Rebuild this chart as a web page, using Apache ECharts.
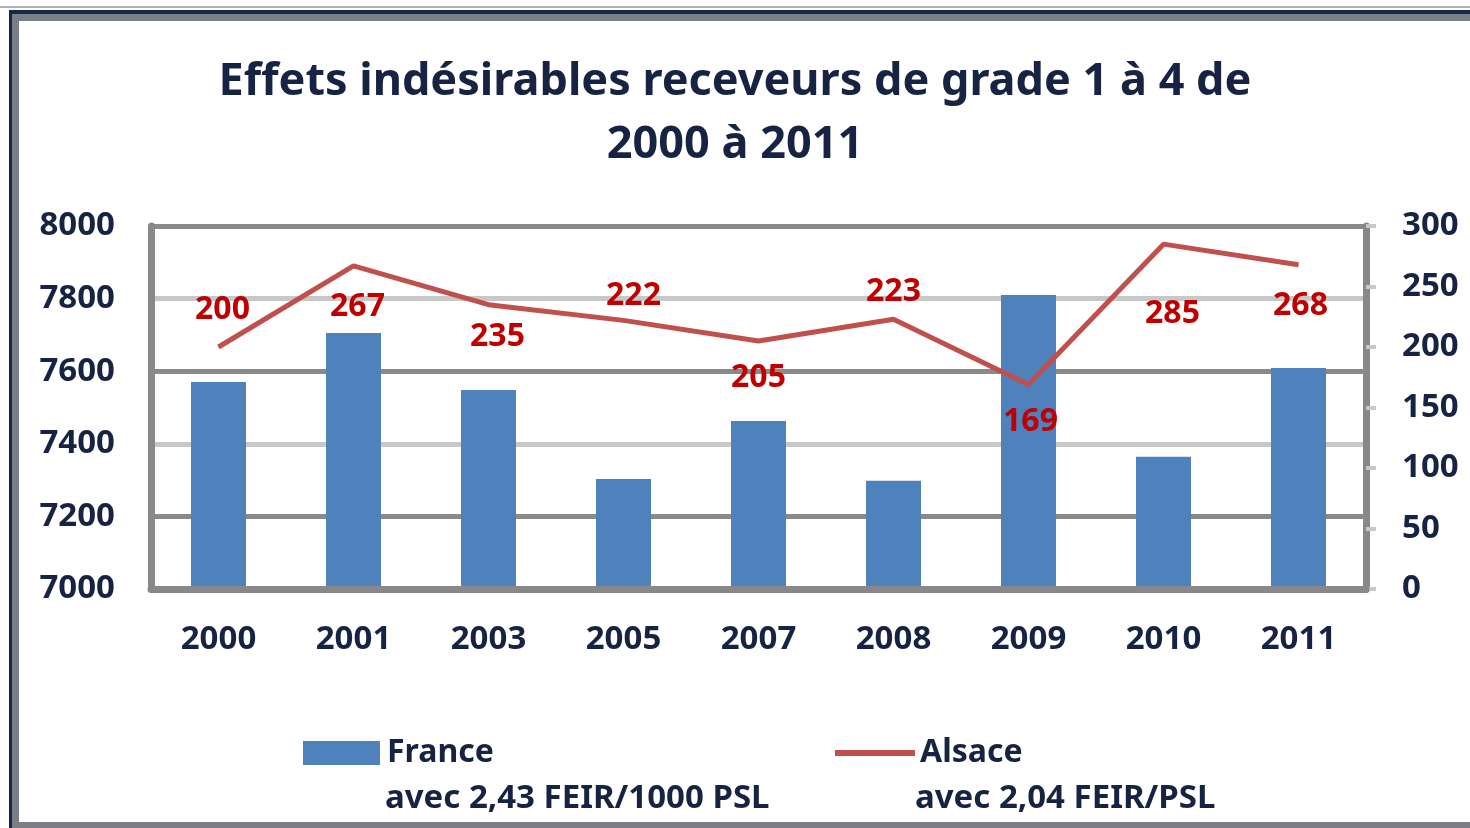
<!DOCTYPE html>
<html>
<head>
<meta charset="utf-8">
<script src="https://cdn.jsdelivr.net/npm/echarts@6/dist/echarts.min.js"></script>
<style>
  html, body { margin: 0; padding: 0; background: #fff; }
  #chart { width: 1470px; height: 828px; }
</style>
</head>
<body>
<div id="chart"></div>
<script>
// years on the x axis
const years = ['2000', '2001', '2003', '2005', '2007', '2008', '2009', '2010', '2011'];
// France (bars, left axis)
const franceValues = [7570, 7705, 7548, 7303, 7463, 7298, 7810, 7364, 7609];
// Alsace (line, right axis)
const alsaceValues = [200, 267, 235, 222, 205, 223, 169, 285, 268];
// label placement of the Alsace values (dx, dy from the point)
const labelOffsets = [[4, -37], [4, 41], [9, 32], [10, -24], [0, 37], [0, -27], [2, 37], [9, 70], [2, 41]];

const textColor = '#172342';
const font = 'Noto Sans';

const chart = echarts.init(document.getElementById('chart'));

const option = {
  backgroundColor: '#fff',
  animation: false,
  title: {
    text: 'Effets indésirables receveurs de grade 1 à 4 de\n2000 à 2011',
    left: 'center',
    top: 46,
    textStyle: {
      fontFamily: font,
      fontSize: 45,
      fontWeight: 'bold',
      color: textColor,
      lineHeight: 63
    }
  },
  legend: [{
    data: [{ name: 'France', icon: 'rect' }],
    left: 298,
    top: 732,
    itemWidth: 77,
    itemHeight: 24,
    textStyle: { fontFamily: font, fontSize: 32, fontWeight: 'bold', color: textColor, padding: [0, 0, 0, 2] }
  }, {
    data: [{ name: 'Alsace', icon: 'rect' }],
    left: 830,
    top: 732,
    itemWidth: 80,
    itemHeight: 6,
    textStyle: { fontFamily: font, fontSize: 32, fontWeight: 'bold', color: textColor }
  }],
  grid: { left: 151, right: 104, top: 226, bottom: 239 },
  xAxis: {
    type: 'category',
    data: years,
    z: 3,
    axisLine: { lineStyle: { color: '#888', width: 7 } },
    axisTick: { show: false },
    axisLabel: { margin: 34, fontFamily: font, fontSize: 33, fontWeight: 'bold', color: textColor }
  },
  yAxis: [{
    type: 'value',
    min: 7000,
    max: 8000,
    interval: 200,
    axisLine: { show: true, lineStyle: { color: '#888', width: 7 } },
    axisTick: { show: false },
    axisLabel: { margin: 36, formatter: v => String(v), fontFamily: font, fontSize: 33, fontWeight: 'bold', color: textColor },
    splitLine: { lineStyle: { color: ['#c8c8c8', '#8a8a8a'], width: 5 } }
  }, {
    type: 'value',
    min: 0,
    max: 300,
    interval: 50,
    position: 'right',
    axisLine: { show: true, lineStyle: { color: '#888', width: 7 } },
    axisTick: { show: true, length: 10, lineStyle: { color: '#c8c8c8', width: 4 } },
    axisLabel: { margin: 36, formatter: v => String(v), fontFamily: font, fontSize: 33, fontWeight: 'bold', color: textColor },
    splitLine: { show: false }
  }],
  series: [{
    name: 'France',
    type: 'bar',
    data: franceValues,
    barWidth: 55,
    itemStyle: { color: '#4f81bd' }
  }, {
    name: 'Alsace',
    type: 'line',
    yAxisIndex: 1,
    z: 4,
    symbol: 'circle',
    symbolSize: 1,
    lineStyle: { color: '#c0504d', width: 5 },
    itemStyle: { color: '#c0504d' },
    data: alsaceValues.map((v, i) => ({
      value: v,
      label: { offset: labelOffsets[i] }
    })),
    label: {
      show: true,
      position: 'inside',
      fontFamily: font,
      fontSize: 32,
      fontWeight: 'bold',
      color: '#c00000'
    }
  }],
  graphic: [
    // frame around the chart
    { type: 'rect', shape: { x: 0, y: 6, width: 1470, height: 2 }, style: { fill: '#b0b0b4' } },
    { type: 'rect', shape: { x: 9, y: 10, width: 1461, height: 4 }, style: { fill: '#13284a' } },
    { type: 'rect', shape: { x: 12, y: 14, width: 1458, height: 7 }, style: { fill: '#7a7e88' } },
    { type: 'rect', shape: { x: 9, y: 10, width: 3, height: 818 }, style: { fill: '#13284a' } },
    { type: 'rect', shape: { x: 12, y: 14, width: 7, height: 814 }, style: { fill: '#7a7e88' } },
    { type: 'rect', shape: { x: 12, y: 822, width: 1458, height: 6 }, style: { fill: '#7a7e88' } },
    // second lines of the legend
    {
      type: 'text', left: 385, top: 782,
      style: { text: 'avec 2,43 FEIR/1000 PSL', font: 'bold 33px "Noto Sans"', fill: textColor }
    },
    {
      type: 'text', left: 915, top: 782,
      style: { text: 'avec 2,04 FEIR/PSL', font: 'bold 33px "Noto Sans"', fill: textColor }
    }
  ]
};

chart.setOption(option);
</script>
</body>
</html>
